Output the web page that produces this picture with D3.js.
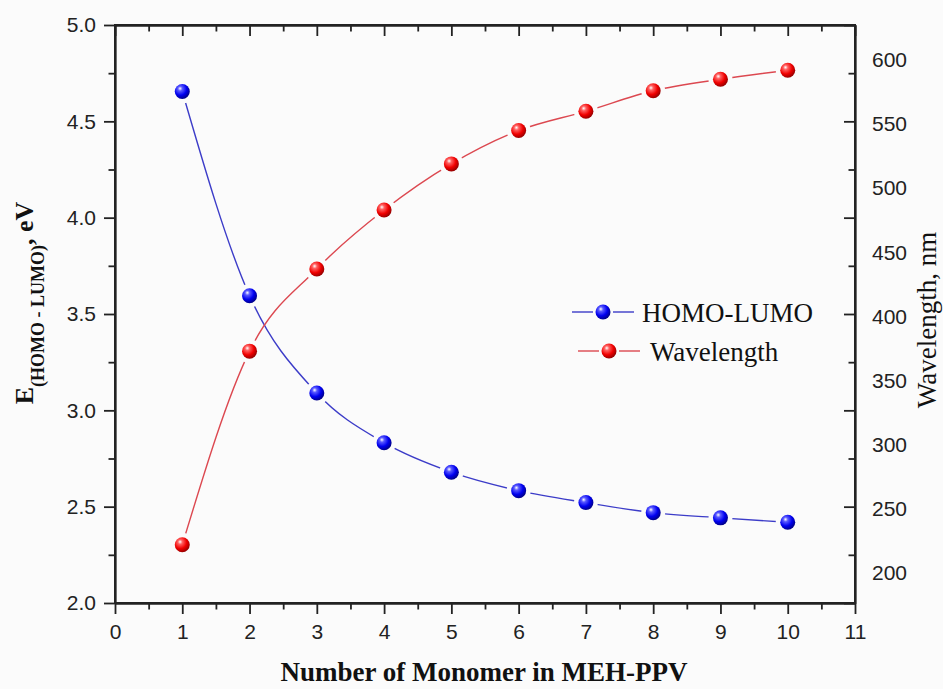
<!DOCTYPE html>
<html>
<head>
<meta charset="utf-8">
<script src="https://cdn.jsdelivr.net/npm/d3@7"></script>
<style>
	body { margin: 0; background: #fbfbfb; }
	.axis path, .axis line { stroke: #222; stroke-width: 1.8px; }
	.axis text { font-family: "Liberation Sans", Arial, sans-serif; font-size: 21px; fill: #222; }
	.title { font-family: "Liberation Serif", "Times New Roman", serif; fill: #111; }
</style>
</head>
<body>
<div id="chartVis"></div>
<script>
const FRAME_HEIGHT = 689;
const FRAME_WIDTH = 943;
const MARGINS = {left: 115, right: 88, top: 25, bottom: 86};

const VIS_HEIGHT = FRAME_HEIGHT - MARGINS.top - MARGINS.bottom;
const VIS_WIDTH = FRAME_WIDTH - MARGINS.left - MARGINS.right;

//data
const MONOMERS = [1, 2, 3, 4, 5, 6, 7, 8, 9, 10];
const HOMO_LUMO = [4.655, 3.595, 3.09, 2.832, 2.679, 2.583, 2.521, 2.469, 2.442, 2.419];
const WAVELENGTH = [222, 373, 437, 483, 519, 545, 560, 576, 585, 592];

//tick labels
const X_TICKS = [0, 1, 2, 3, 4, 5, 6, 7, 8, 9, 10, 11];
const LEFT_TICKS = [2.0, 2.5, 3.0, 3.5, 4.0, 4.5, 5.0];
const RIGHT_TICKS = [200, 250, 300, 350, 400, 450, 500, 550, 600];

//frame for the chart
const FRAME = d3.select("#chartVis")
			.append("svg")
				.attr("height", FRAME_HEIGHT)
				.attr("width", FRAME_WIDTH)
				.attr("class", "frame");

//scales
const X_SCALE = d3.scaleLinear()
				.domain([0, 11])
				.range([MARGINS.left, MARGINS.left + VIS_WIDTH]);

const Y_SCALE_LEFT = d3.scaleLinear()
				.domain([2.0, 5.0])
				.range([MARGINS.top + VIS_HEIGHT, MARGINS.top]);

//right axis labels sit on their own scale (origin quirk), ticks mirror the left axis
const Y_SCALE_RIGHT = d3.scaleLinear()
				.domain([176.6, 627.3])
				.range([MARGINS.top + VIS_HEIGHT, MARGINS.top]);

const X_MINOR = d3.range(0.5, 11, 1);
const LEFT_MINOR = d3.range(2.25, 5, 0.5);

//defs: sphere gradients for the markers
const DEFS = FRAME.append("defs");

function sphere(id, light, mid, dark) {
	let g = DEFS.append("radialGradient")
			.attr("id", id)
			.attr("cx", "38%").attr("cy", "35%").attr("r", "70%")
			.attr("fx", "35%").attr("fy", "30%");
	g.append("stop").attr("offset", "0%").attr("stop-color", "#ffffff");
	g.append("stop").attr("offset", "22%").attr("stop-color", light);
	g.append("stop").attr("offset", "60%").attr("stop-color", mid);
	g.append("stop").attr("offset", "100%").attr("stop-color", dark);
}
sphere("blueBall", "#5a5aff", "#0000f0", "#00007a");
sphere("redBall", "#ff6060", "#f00000", "#8a0000");

//mask cutting gaps in a line around its own markers
function gapMask(id, yScale, values) {
	let m = DEFS.append("mask").attr("id", id)
			.attr("maskUnits", "userSpaceOnUse")
			.attr("x", 0).attr("y", 0)
			.attr("width", FRAME_WIDTH).attr("height", FRAME_HEIGHT);
	m.append("rect")
		.attr("width", FRAME_WIDTH).attr("height", FRAME_HEIGHT)
		.attr("fill", "white");
	m.selectAll("circle")
		.data(values)
		.enter()
		.append("circle")
			.attr("cx", (d, i) => {return X_SCALE(MONOMERS[i]);})
			.attr("cy", (d) => {return yScale(d);})
			.attr("r", 12)
			.attr("fill", "black");
}
gapMask("blueGap", Y_SCALE_LEFT, HOMO_LUMO);
gapMask("redGap", Y_SCALE_RIGHT, WAVELENGTH);

//x axis bottom
FRAME.append("g")
	.attr("class", "axis")
	.attr("transform", "translate(0," + (MARGINS.top + VIS_HEIGHT) + ")")
	.call(d3.axisBottom(X_SCALE).tickValues(X_TICKS).tickSize(11).tickSizeOuter(0).tickPadding(10));

FRAME.append("g")
	.attr("class", "axis")
	.attr("transform", "translate(0," + (MARGINS.top + VIS_HEIGHT) + ")")
	.call(d3.axisBottom(X_SCALE).tickValues(X_MINOR).tickSize(6.5).tickSizeOuter(0).tickFormat(""));

//x axis top, ticks inward
FRAME.append("g")
	.attr("class", "axis")
	.attr("transform", "translate(0," + MARGINS.top + ")")
	.call(d3.axisBottom(X_SCALE).tickValues(X_TICKS).tickSize(11).tickSizeOuter(0).tickFormat(""));

FRAME.append("g")
	.attr("class", "axis")
	.attr("transform", "translate(0," + MARGINS.top + ")")
	.call(d3.axisBottom(X_SCALE).tickValues(X_MINOR).tickSize(6.5).tickSizeOuter(0).tickFormat(""));

//left axis
FRAME.append("g")
	.attr("class", "axis")
	.attr("transform", "translate(" + MARGINS.left + ",0)")
	.call(d3.axisLeft(Y_SCALE_LEFT).tickValues(LEFT_TICKS).tickSize(11).tickSizeOuter(0).tickPadding(8).tickFormat(d3.format(".1f")));

FRAME.append("g")
	.attr("class", "axis")
	.attr("transform", "translate(" + MARGINS.left + ",0)")
	.call(d3.axisLeft(Y_SCALE_LEFT).tickValues(LEFT_MINOR).tickSize(6.5).tickSizeOuter(0).tickFormat(""));

//right axis ticks, inward
FRAME.append("g")
	.attr("class", "axis")
	.attr("transform", "translate(" + (MARGINS.left + VIS_WIDTH) + ",0)")
	.call(d3.axisLeft(Y_SCALE_LEFT).tickValues(LEFT_TICKS).tickSize(11).tickSizeOuter(0).tickFormat(""));

FRAME.append("g")
	.attr("class", "axis")
	.attr("transform", "translate(" + (MARGINS.left + VIS_WIDTH) + ",0)")
	.call(d3.axisLeft(Y_SCALE_LEFT).tickValues(LEFT_MINOR).tickSize(6.5).tickSizeOuter(0).tickFormat(""));

//right axis labels
const RIGHT_LABELS = FRAME.append("g")
	.attr("class", "axis")
	.attr("transform", "translate(" + (MARGINS.left + VIS_WIDTH) + ",0)")
	.call(d3.axisRight(Y_SCALE_RIGHT).tickValues(RIGHT_TICKS).tickSize(0).tickPadding(17));
RIGHT_LABELS.select(".domain").remove();

//curves
const LINE_BLUE = d3.line()
	.x((d, i) => {return X_SCALE(MONOMERS[i]);})
	.y((d) => {return Y_SCALE_LEFT(d);})
	.curve(d3.curveMonotoneX);

const LINE_RED = d3.line()
	.x((d, i) => {return X_SCALE(MONOMERS[i]);})
	.y((d) => {return Y_SCALE_RIGHT(d);})
	.curve(d3.curveMonotoneX);

FRAME.append("path")
	.datum(HOMO_LUMO)
	.attr("d", LINE_BLUE)
	.attr("fill", "none")
	.attr("stroke", "#3c3cc8")
	.attr("stroke-width", 1.4)
	.attr("mask", "url(#blueGap)");

FRAME.append("path")
	.datum(WAVELENGTH)
	.attr("d", LINE_RED)
	.attr("fill", "none")
	.attr("stroke", "#dc4850")
	.attr("stroke-width", 1.4)
	.attr("mask", "url(#redGap)");

//markers
FRAME.selectAll(".blue-pt")
	.data(HOMO_LUMO)
	.enter()
	.append("circle")
		.attr("class", "blue-pt")
		.attr("cx", (d, i) => {return X_SCALE(MONOMERS[i]);})
		.attr("cy", (d) => {return Y_SCALE_LEFT(d);})
		.attr("r", 7.5)
		.attr("fill", "url(#blueBall)");

FRAME.selectAll(".red-pt")
	.data(WAVELENGTH)
	.enter()
	.append("circle")
		.attr("class", "red-pt")
		.attr("cx", (d, i) => {return X_SCALE(MONOMERS[i]);})
		.attr("cy", (d) => {return Y_SCALE_RIGHT(d);})
		.attr("r", 7.5)
		.attr("fill", "url(#redBall)");

//frame box
FRAME.append("rect")
	.attr("x", MARGINS.left)
	.attr("y", MARGINS.top)
	.attr("width", VIS_WIDTH)
	.attr("height", VIS_HEIGHT)
	.attr("fill", "none")
	.attr("stroke", "#222")
	.attr("stroke-width", 2);

//legend
const LEGEND = [
	{label: "HOMO-LUMO", color: "#3c3cc8", ball: "url(#blueBall)", x: 603, y: 312, tx: 642},
	{label: "Wavelength", color: "#dc4850", ball: "url(#redBall)", x: 609, y: 351, tx: 650}
];
LEGEND.forEach((l) => {
	FRAME.append("line")
		.attr("x1", l.x - 31).attr("x2", l.x - 10)
		.attr("y1", l.y).attr("y2", l.y)
		.attr("stroke", l.color).attr("stroke-width", 1.4);
	FRAME.append("line")
		.attr("x1", l.x + 10).attr("x2", l.x + 31)
		.attr("y1", l.y).attr("y2", l.y)
		.attr("stroke", l.color).attr("stroke-width", 1.4);
	FRAME.append("circle")
		.attr("cx", l.x).attr("cy", l.y).attr("r", 7.5)
		.attr("fill", l.ball);
	FRAME.append("text")
		.attr("class", "title")
		.attr("x", l.tx).attr("y", l.y + 10)
		.attr("font-size", "27px")
		.text(l.label);
});

//x axis title
FRAME.append("text")
	.attr("class", "title")
	.attr("x", (X_SCALE(0) + X_SCALE(11)) / 2 - 1)
	.attr("y", 681)
	.attr("text-anchor", "middle")
	.attr("font-size", "27px")
	.attr("font-weight", "bold")
	.text("Number of Monomer in MEH-PPV");

//left axis title with subscript
const LEFT_TITLE = FRAME.append("text")
	.attr("class", "title")
	.attr("transform", "translate(33,303) rotate(-90)")
	.attr("text-anchor", "middle")
	.attr("font-size", "26px")
	.attr("font-weight", "bold");
LEFT_TITLE.append("tspan").text("E");
LEFT_TITLE.append("tspan").attr("dy", 11).attr("font-size", "18px").text("(HOMO - LUMO)");
LEFT_TITLE.append("tspan").attr("dy", -11).text(", eV");

//right axis title
FRAME.append("text")
	.attr("class", "title")
	.attr("transform", "translate(936,320) rotate(-90)")
	.attr("text-anchor", "middle")
	.attr("font-size", "27px")
	.text("Wavelength, nm");
</script>
</body>
</html>
